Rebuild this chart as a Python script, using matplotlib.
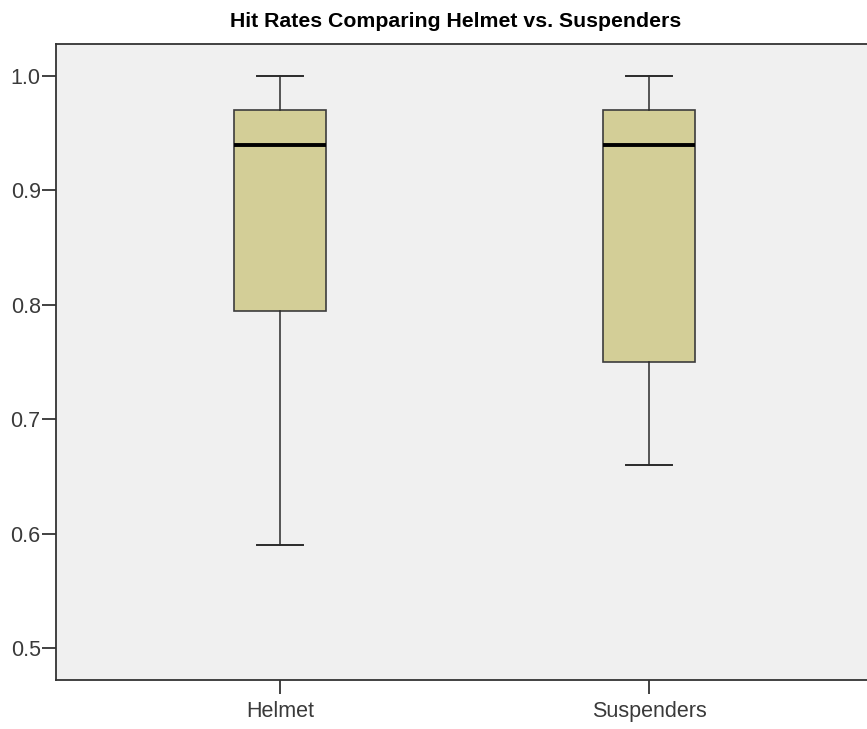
import matplotlib.pyplot as plt

plt.rcParams['font.family'] = ['Liberation Sans', 'DejaVu Sans']

groups = ['Helmet', 'Suspenders']
whisker_low = [0.59, 0.66]
q1 = [0.795, 0.75]
median = [0.94, 0.94]
q3 = [0.97, 0.97]
whisker_high = [1.0, 1.0]

stats = []
for i in range(len(groups)):
    stats.append({'label': groups[i], 'whislo': whisker_low[i], 'q1': q1[i],
                  'med': median[i], 'q3': q3[i], 'whishi': whisker_high[i]})

fig = plt.figure(figsize=(8.67, 7.29), dpi=100)
ax = fig.add_axes([56 / 867, 1 - 680 / 729, 1 - 56 / 867, 636 / 729])
ax.set_facecolor('#f0f0f0')

ax.bxp(stats, positions=[1, 2], widths=0.25, showfliers=False, patch_artist=True,
       boxprops=dict(facecolor='#d3ce97', edgecolor='#3c3c3c', linewidth=1.2),
       medianprops=dict(color='black', linewidth=2.8),
       whiskerprops=dict(color='#2a2a2a', linewidth=1.1),
       capprops=dict(color='#2a2a2a', linewidth=1.4), capwidths=0.125)

ax.set_xlim(0.393, 2.591)
ax.set_ylim(0.472, 1.028)
ax.set_yticks([0.5, 0.6, 0.7, 0.8, 0.9, 1.0])
ax.set_yticklabels(['0.5', '0.6', '0.7', '0.8', '0.9', '1.0'])
ax.set_xticks([1, 2])
ax.set_xticklabels(groups)

for side in ['left', 'bottom', 'top']:
    ax.spines[side].set_color('#333333')
    ax.spines[side].set_linewidth(1.3)
ax.spines['right'].set_visible(False)
ax.tick_params(axis='both', colors='#333333', labelcolor='#3a3a3a',
               labelsize=15.5, length=10, width=1.3)
ax.tick_params(axis='y', pad=1)
ax.tick_params(axis='x', pad=5)

ax.set_title('Hit Rates Comparing Helmet vs. Suspenders', fontsize=15.3,
             fontweight='bold', x=(456 - 56) / 811, pad=12.3)

fig.savefig('out.png', dpi=100)
